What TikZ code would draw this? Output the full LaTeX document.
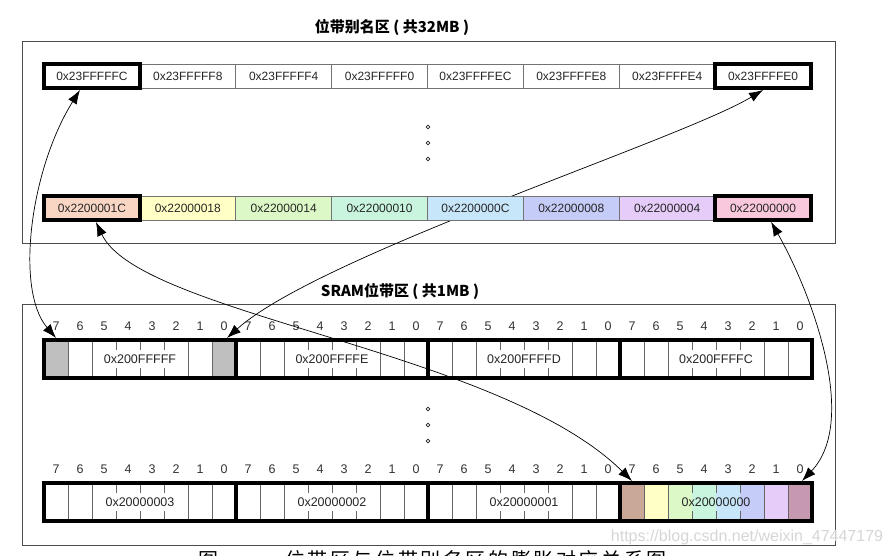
\documentclass[tikz,border=0pt]{standalone}
\usepackage{fontspec}
\setmainfont{Liberation Sans}
\newfontfamily\cjk{Noto Sans CJK SC}
\usetikzlibrary{arrows.meta}
\definecolor{cA}{HTML}{F9D6C4}
\definecolor{cB}{HTML}{FFFFC6}
\definecolor{cC}{HTML}{DCF8C6}
\definecolor{cD}{HTML}{C9F4DE}
\definecolor{cE}{HTML}{C8E6FA}
\definecolor{cF}{HTML}{C6CCF8}
\definecolor{cG}{HTML}{E6CCF8}
\definecolor{cH}{HTML}{F9C8DC}
\definecolor{sA}{HTML}{C9A897}
\definecolor{sH}{HTML}{C799B0}
\definecolor{gsel}{HTML}{BFBFBF}
\tikzset{
 ttl/.style={font=\cjk\bfseries\fontsize{15}{16}\selectfont, inner sep=0},
 boxframe/.style={draw=black!70, line width=0.9pt},
 aliascell/.style={draw=black!55, line width=0.6pt, minimum width=95.875pt, minimum height=24pt, inner sep=0, outer sep=0, font=\fontsize{12}{13}\selectfont, text=black!85},
 hotbox/.style={draw=black, line width=3.5pt},
 bitcell/.style={minimum width=24pt, minimum height=38pt, inner sep=0, outer sep=0},
 bitnum/.style={font=\fontsize{12.5}{13}\selectfont, text=black!80, inner sep=0},
 sramlab/.style={font=\fontsize{12.5}{13}\selectfont, text=black!85, inner sep=0},
 thinsep/.style={draw=black!60, line width=0.7pt},
 thicksep/.style={draw=black, line width=3.5pt},
 conn/.style={draw=black, line width=0.7pt, {Latex[length=14pt,width=10pt]}-{Latex[length=14pt,width=10pt]}},
 dotc/.style={draw=black!85, line width=0.7pt},
 wmark/.style={font=\fontsize{16}{17}\selectfont, text=black!16, inner sep=0},
 capt/.style={font=\cjk\fontsize{20}{20}\selectfont, inner sep=0, anchor=base west},
}
\begin{document}
\begin{tikzpicture}[x=1pt,y=-1pt]
\useasboundingbox (0,0) rectangle (893,556);
\fill[white] (0,0) rectangle (893,556);

% frames and titles
\draw[boxframe] (22,41) rectangle (835,243);
\draw[boxframe] (22,304) rectangle (835,545);
\node[ttl] (t1) at (392,27) {位带别名区 ( 共32MB )};
\node[ttl] (t2) at (400,291) {SRAM位带区 ( 共1MB )};

% SRAM bit cells (invisible anchors)
\foreach \r/\yy in {1/359,2/502}
 \foreach \j in {0,...,3}
  \foreach \k in {0,...,7}
   \node[bitcell] (s\r-\j-\k) at ({44+192*\j+24*(7-\k)+12},\yy) {};

% alias top row
\foreach \lab [count=\i] in {0x23FFFFFC,0x23FFFFF8,0x23FFFFF4,0x23FFFFF0,0x23FFFFEC,0x23FFFFE8,0x23FFFFE4,0x23FFFFE0}
 \node[aliascell] (a\i) at ({44+95.875*(\i-0.5)},76) {\lab};

% connector passing behind the coloured row
\draw[conn] ([xshift=3pt,yshift=2pt]s1-0-0.north) .. controls (320,255) and (680,140) .. ([yshift=-2pt]a8.south);

% alias bottom row
\foreach \lab/\col [count=\i] in {0x2200001C/cA,0x22000018/cB,0x22000014/cC,0x22000010/cD,0x2200000C/cE,0x22000008/cF,0x22000004/cG,0x22000000/cH}
 \node[aliascell, fill=\col] (b\i) at ({44+95.875*(\i-0.5)},208) {\lab};

\draw[hotbox] (a1.north west) rectangle (a1.south east);
\draw[hotbox] (a8.north west) rectangle (a8.south east);
\draw[hotbox] (b1.north west) rectangle (b1.south east);
\draw[hotbox] (b8.north west) rectangle (b8.south east);

% SRAM fills
\fill[gsel] (s1-0-7.north west) rectangle (s1-0-7.south east);
\fill[gsel] (s1-0-0.north west) rectangle (s1-0-0.south east);
\foreach \k/\col in {7/sA,6/cB,5/cC,4/cD,3/cE,2/cF,1/cG,0/sH}
 \fill[\col] (s2-3-\k.north west) rectangle (s2-3-\k.south east);

% SRAM dividers, labels, bit numbers
\foreach \r in {1,2}{
 \foreach \j in {0,...,3}{
  \foreach \k in {7,6,2,1}
   \draw[thinsep] (s\r-\j-\k.north east) -- (s\r-\j-\k.south east);
  \foreach \k in {5,4,3}{
   \draw[thinsep] (s\r-\j-\k.north east) -- ++(0,10);
   \draw[thinsep] (s\r-\j-\k.south east) -- ++(0,-10);
  }
  \foreach \k in {0,...,7}
   \node[bitnum] (n\r-\j-\k) at ([yshift=14pt]s\r-\j-\k.north) {\k};
 }
 \foreach \j in {0,1,2}
  \draw[thicksep] (s\r-\j-0.north east) -- (s\r-\j-0.south east);
 \draw[thicksep] (s\r-0-7.north west) rectangle (s\r-3-0.south east);
}
\foreach \lab [count=\i from 0] in {0x200FFFFF,0x200FFFFE,0x200FFFFD,0x200FFFFC}
 \node[sramlab] (l1-\i) at (s1-\i-4.east) {\lab};
\foreach \lab [count=\i from 0] in {0x20000003,0x20000002,0x20000001,0x20000000}
 \node[sramlab] (l2-\i) at (s2-\i-4.east) {\lab};

% connectors
\draw[conn] ([yshift=2pt]s1-0-7.north) .. controls (15,290) and (30,170) .. ([xshift=-12pt,yshift=-2pt]a1.south);
\draw[conn] ([xshift=8pt,yshift=-2pt]b8.south) .. controls (810,290) and (860,420) .. ([xshift=2pt,yshift=2pt]s2-3-0.north);
\draw[conn] ([xshift=4pt,yshift=-2pt]b1.south) .. controls (140,315) and (500,350) .. ([yshift=2pt]s2-3-7.north);

% ellipsis dots
\foreach \yy [count=\i] in {127,143,159}
 \draw[dotc] (428,\yy) circle[radius=1.8pt] node (d1-\i) {};
\foreach \yy [count=\i] in {409,425,441}
 \draw[dotc] (428,\yy) circle[radius=1.8pt] node (d2-\i) {};

% watermark and caption
\node[wmark] (wm) at (747,537) {https://blog.csdn.net/weixin\_47447179};
\node[capt] (cap1) at (198,567) {图};
\node[capt] (cap2) at (285,567) {\addfontfeature{LetterSpace=13}位带区与位带别名区的膨胀对应关系图};
\end{tikzpicture}
\end{document}
